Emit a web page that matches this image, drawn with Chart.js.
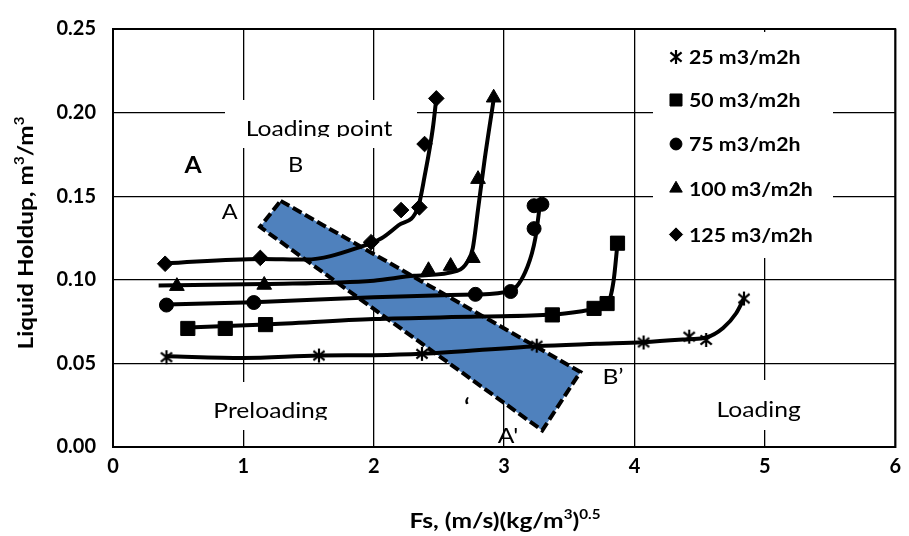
<!DOCTYPE html>
<html>
<head>
<meta charset="utf-8">
<title>Liquid Holdup</title>
<script src="https://cdn.jsdelivr.net/npm/chart.js@4.4.1/dist/chart.umd.min.js"></script>
<style>
  html, body { margin: 0; padding: 0; background: #fff; }
  #caixa { width: 909px; height: 536px; }
</style>
</head>
<body>
<div id="caixa"><canvas id="grafico"></canvas></div>
<script>
// Dados
var ticksX = [0, 1, 2, 3, 4, 5, 6];
var ticksY = [0, 0.05, 0.10, 0.15, 0.20, 0.25];
var nomesSeries = ['25 m3/m2h', '50 m3/m2h', '75 m3/m2h', '100 m3/m2h', '125 m3/m2h'];

// pontos medidos [Fs, holdup]
var pontos25 = [[0.41, 0.0537], [1.58, 0.0547], [2.37, 0.0557], [3.25, 0.0606], [4.07, 0.0625], [4.42, 0.066], [4.55, 0.064], [4.84, 0.0888]];
var pontos50 = [[0.574, 0.0709], [0.861, 0.0709], [1.17, 0.0732], [3.37, 0.079], [3.69, 0.0829], [3.79, 0.0858], [3.87, 0.1219]];
var pontos75 = [[0.41, 0.0849], [1.08, 0.0864], [2.78, 0.0913], [3.05, 0.093], [3.23, 0.1306], [3.23, 0.1443], [3.29, 0.1452]];
var pontos100 = [[0.49, 0.0962], [1.16, 0.0969], [2.42, 0.1057], [2.59, 0.1082], [2.76, 0.1129], [2.8, 0.1602], [2.92, 0.2089]];
var pontos125 = [[0.4, 0.1096], [1.13, 0.1131], [1.98, 0.1225], [2.21, 0.1417], [2.35, 0.1433], [2.39, 0.1812], [2.48, 0.2085]];

// curvas de tendência
var curva25 = [[0.41, 0.0543], [1.0, 0.0533], [1.58, 0.0547], [2.0, 0.0549], [2.37, 0.0557], [3.25, 0.0603], [3.71, 0.0617], [4.07, 0.0627], [4.42, 0.0645], [4.55, 0.0655], [4.68, 0.0712], [4.78, 0.080], [4.84, 0.0888]];
var curva50 = [[0.574, 0.0715], [1.17, 0.0732], [2.0, 0.0765], [2.8, 0.078], [3.37, 0.0792], [3.69, 0.0822], [3.79, 0.085], [3.84, 0.0995], [3.87, 0.1219]];
var curva75 = [[0.41, 0.0852], [1.08, 0.0866], [2.0, 0.0895], [2.4, 0.0905], [2.78, 0.0912], [3.05, 0.0935], [3.18, 0.108], [3.24, 0.125], [3.275, 0.145]];
var curva100 = [[0.35, 0.0966], [1.16, 0.0975], [2.0, 0.0995], [2.31, 0.1024], [2.64, 0.1053], [2.72, 0.111], [2.76, 0.119], [2.8, 0.142], [2.85, 0.1715], [2.925, 0.2104]];
var curva125 = [[0.4, 0.1098], [1.13, 0.1125], [1.48, 0.1121], [1.92, 0.1203], [2.06, 0.1248], [2.19, 0.1326], [2.34, 0.1433], [2.39, 0.1618], [2.454, 0.191], [2.48, 0.2085]];

// faixa do ponto de carga (cantos B, B', A', A)
var faixaX = [1.286, 3.585, 3.293, 1.128, 1.286];
var faixaY = [0.1472, 0.0449, 0.0099, 0.1316, 0.1472];

var ESTICA = 1.12; // o texto original é mais largo que o Lato

function paraXY(lista) {
    return lista.map(function (p) { return { x: p[0], y: p[1] }; });
}

function criaAsterisco(tam) {
    var c = document.createElement('canvas');
    c.width = tam; c.height = tam;
    var g = c.getContext('2d');
    var m = tam / 2, r = tam / 2 - 1;
    g.strokeStyle = '#000';
    g.lineWidth = 2.2;
    g.beginPath();
    g.moveTo(m, m - r); g.lineTo(m, m + r);
    g.moveTo(m - r * 0.8, m - r * 0.65); g.lineTo(m + r * 0.8, m + r * 0.65);
    g.moveTo(m - r * 0.8, m + r * 0.65); g.lineTo(m + r * 0.8, m - r * 0.65);
    g.stroke();
    return c;
}

var asterisco = criaAsterisco(16);
var estilos = [asterisco, 'rect', 'circle', 'triangle', 'rectRot'];
var raios = [8, 10, 7, 8.5, 7.8];
var todosPontos = [pontos25, pontos50, pontos75, pontos100, pontos125];
var todasCurvas = [curva25, curva50, curva75, curva100, curva125];

var datasets = [];

datasets.push({
    label: 'faixa',
    data: faixaX.map(function (x, i) { return { x: x, y: faixaY[i] }; }),
    showLine: true,
    fill: 'shape',
    backgroundColor: '#4F81BD',
    borderColor: '#000',
    borderWidth: 4,
    borderDash: [10, 4],
    pointRadius: 0,
    tension: 0,
    order: 3
});

for (var i = 0; i < todasCurvas.length; i++) {
    datasets.push({
        label: 'curva ' + nomesSeries[i],
        data: paraXY(todasCurvas[i]),
        showLine: true,
        fill: false,
        borderColor: '#000',
        borderWidth: 4,
        pointRadius: 0,
        cubicInterpolationMode: 'monotone',
        order: 2
    });
}

for (var j = 0; j < todosPontos.length; j++) {
    datasets.push({
        label: nomesSeries[j],
        data: paraXY(todosPontos[j]),
        showLine: false,
        pointStyle: estilos[j],
        pointRadius: raios[j],
        pointHoverRadius: raios[j],
        backgroundColor: '#000',
        borderColor: '#000',
        borderWidth: 1,
        order: 1
    });
}

function desenhaMarcador(ctx, estilo, x, y, r) {
    if (typeof estilo !== 'string') {
        ctx.drawImage(estilo, x - estilo.width / 2, y - estilo.height / 2);
        return;
    }
    ctx.beginPath();
    if (estilo === 'circle') {
        ctx.arc(x, y, r, 0, Math.PI * 2);
    } else if (estilo === 'rect') {
        var s = r * Math.SQRT1_2;
        ctx.rect(x - s, y - s, 2 * s, 2 * s);
    } else if (estilo === 'triangle') {
        ctx.moveTo(x, y - r);
        ctx.lineTo(x + r * 0.866, y + r * 0.5);
        ctx.lineTo(x - r * 0.866, y + r * 0.5);
    } else if (estilo === 'rectRot') {
        ctx.moveTo(x - r, y); ctx.lineTo(x, y - r); ctx.lineTo(x + r, y); ctx.lineTo(x, y + r);
    }
    ctx.closePath();
    ctx.fill();
    ctx.stroke();
}

function rotulo(ctx, texto, cx, base, fonte, corteY) {
    ctx.save();
    if (corteY) {
        ctx.beginPath();
        ctx.rect(0, 0, 909, corteY);
        ctx.clip();
    }
    ctx.font = fonte;
    ctx.fillStyle = '#000';
    ctx.textAlign = 'center';
    ctx.textBaseline = 'alphabetic';
    ctx.translate(cx, base);
    ctx.scale(ESTICA, 1);
    ctx.fillText(texto, 0, 0);
    ctx.restore();
}

// título com expoentes; largura = largura final desejada
function tituloEixo(ctx, partes, cx, cy, girar, tam, largura) {
    var fonteN = 'bold ' + tam + 'px Lato';
    var fonteS = 'bold ' + Math.round(tam * 0.62) + 'px Lato';
    var total = 0;
    partes.forEach(function (p) {
        ctx.font = p[1] ? fonteS : fonteN;
        total += ctx.measureText(p[0]).width;
    });
    ctx.save();
    ctx.translate(cx, cy);
    if (girar) ctx.rotate(-Math.PI / 2);
    ctx.scale(largura / total, 1);
    ctx.fillStyle = '#000';
    ctx.textAlign = 'left';
    ctx.textBaseline = 'alphabetic';
    var x = -total / 2;
    var base = tam * 0.36;
    partes.forEach(function (p) {
        ctx.font = p[1] ? fonteS : fonteN;
        ctx.fillText(p[0], x, p[1] ? base - tam * 0.4 : base);
        x += ctx.measureText(p[0]).width;
    });
    ctx.restore();
}

var caixasBrancas = [[225, 100, 417, 148], [653, 32, 833, 258], [200, 382, 340, 430], [700, 380, 820, 430]];
var linhasLegenda = [57, 100, 144, 188.5, 234.5];

var pluginDesenho = {
    id: 'desenho',
    beforeDatasetsDraw: function (chart) {
        var ctx = chart.ctx;
        ctx.save();
        ctx.fillStyle = '#fff';
        caixasBrancas.forEach(function (c) {
            ctx.fillRect(c[0], c[1], c[2] - c[0], c[3] - c[1]);
        });

        rotulo(ctx, 'Loading point', 319, 136, '22px Lato', 137);
        rotulo(ctx, 'Preloading', 270.5, 417.5, '22px Lato', 420);
        rotulo(ctx, 'Loading', 758.7, 417.3, '22px Lato');
        rotulo(ctx, 'A', 193, 173, 'bold 22px Lato');
        rotulo(ctx, 'B', 295.5, 171.7, '21px Lato');
        rotulo(ctx, 'A', 229.7, 219, '21px Lato');
        rotulo(ctx, 'B\u2019', 613, 384, '22px Lato');
        rotulo(ctx, "A'", 508, 443, '22px Lato');
        rotulo(ctx, '\u2018', 467, 415, 'bold 22px Lato');

        // legenda
        ctx.fillStyle = '#000';
        ctx.strokeStyle = '#000';
        ctx.lineWidth = 1;
        for (var k = 0; k < nomesSeries.length; k++) {
            desenhaMarcador(ctx, estilos[k], 676, linhasLegenda[k], raios[k] * 0.85);
            ctx.save();
            ctx.font = 'bold 19px Lato';
            ctx.textAlign = 'left';
            ctx.textBaseline = 'middle';
            ctx.translate(689, linhasLegenda[k] + 1);
            ctx.scale(ESTICA, 1);
            ctx.fillText(nomesSeries[k], 0, 0);
            ctx.restore();
        }
        ctx.restore();
    },
    afterDraw: function (chart) {
        var a = chart.chartArea, ctx = chart.ctx;
        ctx.save();
        ctx.strokeStyle = '#000';
        ctx.lineWidth = 2;
        ctx.strokeRect(a.left, a.top, a.right - a.left, a.bottom - a.top);
        tituloEixo(ctx, [['Fs, (m/s)(kg/m', 0], ['3', 1], [')', 0], ['0.5', 1]], 505, 520, false, 21, 191);
        tituloEixo(ctx, [['Liquid Holdup, m', 0], ['3', 1], ['/m', 0], ['3', 1]], 25, 233, true, 21, 233);
        ctx.restore();
    }
};

Chart.defaults.font.family = 'Lato';

new Chart(document.getElementById('grafico'), {
    type: 'scatter',
    data: { datasets: datasets },
    options: {
        responsive: true,
        maintainAspectRatio: false,
        animation: false,
        devicePixelRatio: 1,
        layout: { padding: { top: 19, right: 9, left: 0, bottom: 0 } },
        plugins: {
            legend: { display: false },
            tooltip: { enabled: false }
        },
        scales: {
            x: {
                type: 'linear',
                min: 0,
                max: 6,
                afterBuildTicks: function (s) { s.ticks = ticksX.map(function (v) { return { value: v }; }); },
                afterFit: function (s) { s.height = 89; },
                grid: { color: '#000', lineWidth: 1.3, drawTicks: false },
                border: { color: '#000', width: 2 },
                ticks: {
                    color: '#000',
                    padding: 8,
                    font: { size: 20, weight: 'bold' },
                    callback: function (v) { return v; }
                }
            },
            y: {
                type: 'linear',
                min: 0,
                max: 0.25,
                afterBuildTicks: function (s) { s.ticks = ticksY.map(function (v) { return { value: v }; }); },
                afterFit: function (s) { s.width = 113; },
                grid: { color: '#000', lineWidth: 1.3, drawTicks: false },
                border: { color: '#000', width: 2 },
                ticks: {
                    color: '#000',
                    padding: 17,
                    font: { size: 20, weight: 'bold' },
                    callback: function (v) { return v.toFixed(2); }
                }
            }
        }
    },
    plugins: [pluginDesenho]
});
</script>
</body>
</html>
